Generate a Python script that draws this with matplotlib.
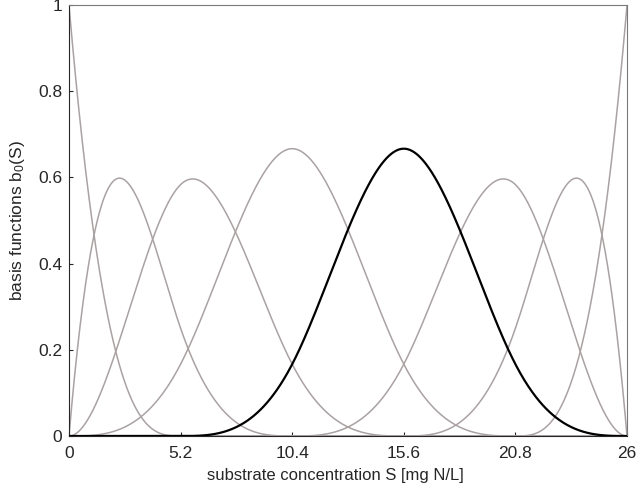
import numpy as np
import matplotlib
matplotlib.use("Agg")
import matplotlib.pyplot as plt

# cubic B-spline basis on [0, 26], clamped, uniform interior knots
degree = 3
breaks = [0, 5.2, 10.4, 15.6, 20.8, 26]
highlight = 4  # basis function drawn in black
xticks = [0, 5.2, 10.4, 15.6, 20.8, 26]
xtick_labels = ["0", "5.2", "10.4", "15.6", "20.8", "26"]
yticks = [0, 0.2, 0.4, 0.6, 0.8, 1]
ytick_labels = ["0", "0.2", "0.4", "0.6", "0.8", "1"]


def bspline_basis(knots, k, s):
    """Cox-de Boor recursion, returns array (n_basis, len(s))."""
    knots = np.asarray(knots, float)
    n = len(knots) - 1
    B = np.zeros((n, len(s)))
    for i in range(n):
        if knots[i] < knots[i + 1]:
            B[i] = (s >= knots[i]) & (s < knots[i + 1])
    # include right end point in the last non-empty interval
    last = np.max(np.nonzero(knots[:-1] < knots[1:])[0])
    B[last, s == knots[-1]] = 1.0
    for d in range(1, k + 1):
        Bn = np.zeros((n - d, len(s)))
        for i in range(n - d):
            a = knots[i + d] - knots[i]
            b = knots[i + d + 1] - knots[i + 1]
            if a > 0:
                Bn[i] += (s - knots[i]) / a * B[i]
            if b > 0:
                Bn[i] += (knots[i + d + 1] - s) / b * B[i + 1]
        B = Bn
    return B


knots = [breaks[0]] * degree + breaks + [breaks[-1]] * degree
s = np.linspace(breaks[0], breaks[-1], 1000)
basis = bspline_basis(knots, degree, s)

plt.rcParams["font.family"] = ["Liberation Sans", "DejaVu Sans"]
plt.rcParams["mathtext.fontset"] = "custom"
plt.rcParams["mathtext.rm"] = "Liberation Sans"
plt.rcParams["mathtext.it"] = "Liberation Sans"

fig = plt.figure(figsize=(6.4, 4.97), dpi=100)
ax = fig.add_axes([0.1078, 0.1227, 0.8719, 0.8672])

grey = "#aaa2a2"
for i, b in enumerate(basis):
    if i != highlight:
        ax.plot(s, b, color=grey, lw=1.1, zorder=2)
ax.plot(s, basis[highlight], color="black", lw=1.6, zorder=3)

ax.set_xlim(breaks[0], breaks[-1])
ax.set_ylim(0, 1)
ax.set_xticks(xticks, xtick_labels)
ax.set_yticks(yticks, ytick_labels)
ax.tick_params(direction="in", length=3, labelsize=12.5, colors="#262626")
ax.tick_params(axis="y", pad=5)
ax.tick_params(axis="x", pad=7)
for side in ("top", "right"):
    ax.spines[side].set_color("#7a7a7a")
for side in ("left", "bottom"):
    ax.spines[side].set_color("#262626")
ax.set_xlabel("substrate concentration S [mg N/L]", fontsize=12, color="#262626", labelpad=8)
ax.xaxis.set_label_coords(0.477, -0.075)
ax.set_ylabel(r"basis functions b$_0$(S)", fontsize=12.5, color="#262626", labelpad=8)

fig.savefig("out.png", dpi=100)
